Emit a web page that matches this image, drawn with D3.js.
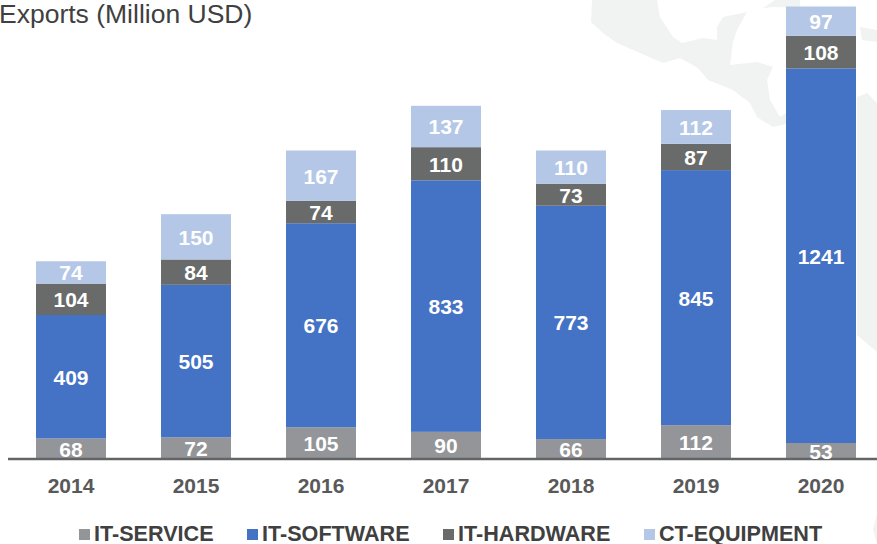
<!DOCTYPE html>
<html>
<head>
<meta charset="UTF-8">
<title>Exports</title>
<script src="https://cdn.jsdelivr.net/npm/d3@7"></script>
<style>
	html, body { margin: 0; padding: 0; background: #fff; }
	svg { display: block; font-family: "Liberation Sans", Arial, sans-serif; }
</style>
</head>
<body>
	<div id="chart"></div>
	<script type="text/javascript">
		var years = ["2014", "2015", "2016", "2017", "2018", "2019", "2020"];
		var seriesNames = ["IT-SERVICE", "IT-SOFTWARE", "IT-HARDWARE", "CT-EQUIPMENT"];
		var itService = [68, 72, 105, 90, 66, 112, 53];
		var itSoftware = [409, 505, 676, 833, 773, 845, 1241];
		var itHardware = [104, 84, 74, 110, 73, 87, 108];
		var ctEquipment = [74, 150, 167, 137, 110, 112, 97];
		var colors = ["#939598", "#4472c4", "#696b6a", "#b4c7e7"];

		var width = 877, height = 544;
		var baseline = 459;

		var rows = years.map(function(y, i) {
			return { year: y, "IT-SERVICE": itService[i], "IT-SOFTWARE": itSoftware[i], "IT-HARDWARE": itHardware[i], "CT-EQUIPMENT": ctEquipment[i] };
		});

		var svg = d3.select("#chart").append("svg").attr("width", width).attr("height", height);

		// faint map behind the bars, just decoration
		var map = svg.append("g").attr("fill", "#f1f2f2");
		map.append("path").attr("d", "M592,0 L591,22 L603,33 L617,43 L640,53 L663,63 L680,58 L698,68 L708,80 L733,90 L750,103 L757,117 L773,127 L790,123 L790,110 L780,117 L770,100 L767,80 L773,67 L757,62 L730,65 L733,42 L737,30 L747,12 L723,17 L717,27 L717,40 L703,38 L682,43 L673,37 L660,17 L657,0 Z");
		map.append("path").attr("d", "M763,8 L772,2 L775,0 L800,0 L800,8 L775,7 Z");
		map.append("path").attr("d", "M857,97 L867,93 L877,103 L877,352 L857,335 Z");
		map.append("path").attr("d", "M860,27 L877,30 L877,42 L862,40 Z");
		map.append("path").attr("d", "M877,514 L873,530 L877,544 Z");

		var x = d3.scaleBand().domain(years).range([8.5, 883.5]).paddingInner(0.44).paddingOuter(0.22);
		var y = d3.scaleLinear().domain([0, 1499]).range([baseline, 6.5]);

		var stack = d3.stack().keys(seriesNames)(rows);

		var groups = svg.selectAll(".series").data(stack).enter().append("g").attr("class", "series").attr("fill", function(d, i) {
			return colors[i];
		});

		groups.selectAll("rect").data(function(d) { return d; }).enter().append("rect")
			.attr("x", function(d) { return x(d.data.year); })
			.attr("y", function(d) { return y(d[1]); })
			.attr("width", x.bandwidth())
			.attr("height", function(d) { return y(d[0]) - y(d[1]); });

		// axis
		var axis = svg.append("g").attr("transform", "translate(0," + baseline + ")").call(d3.axisBottom(x).tickSize(0).tickPadding(19));
		axis.select(".domain").remove();
		axis.selectAll("text").attr("font-size", 21).attr("font-weight", "bold").attr("fill", "#595959").attr("font-family", "Liberation Sans");
		svg.append("line").attr("x1", 8).attr("x2", width).attr("y1", baseline).attr("y2", baseline).attr("stroke", "#636466").attr("stroke-width", 2.5);

		// value labels, on top of the axis line ("53" overlaps it)
		var labels = svg.selectAll(".labels").data(stack).enter().append("g").attr("class", "labels");
		labels.selectAll("text").data(function(d) { return d; }).enter().append("text")
			.attr("x", function(d) { return x(d.data.year) + x.bandwidth() / 2; })
			.attr("y", function(d) { return (y(d[0]) + y(d[1])) / 2; })
			.attr("dy", "0.38em")
			.attr("text-anchor", "middle")
			.attr("font-size", 21)
			.attr("font-weight", "bold")
			.attr("fill", "#fff")
			.text(function(d) { return d[1] - d[0]; });

		svg.append("text").attr("x", -1).attr("y", 23).attr("font-size", 26.5).attr("fill", "#404040").text("Exports (Million USD)");

		// legend
		var legendX = [79, 247, 443, 644];
		var legend = svg.selectAll(".legend").data(seriesNames).enter().append("g").attr("class", "legend").attr("transform", function(d, i) {
			return "translate(" + legendX[i] + ",529)";
		});
		legend.append("rect").attr("width", 11).attr("height", 11).attr("fill", function(d, i) { return colors[i]; });
		legend.append("text").attr("x", 15).attr("y", 11.5).attr("font-size", 21.6).attr("font-weight", "bold").attr("fill", "#404040").text(function(d) { return d; });
	</script>
</body>
</html>
